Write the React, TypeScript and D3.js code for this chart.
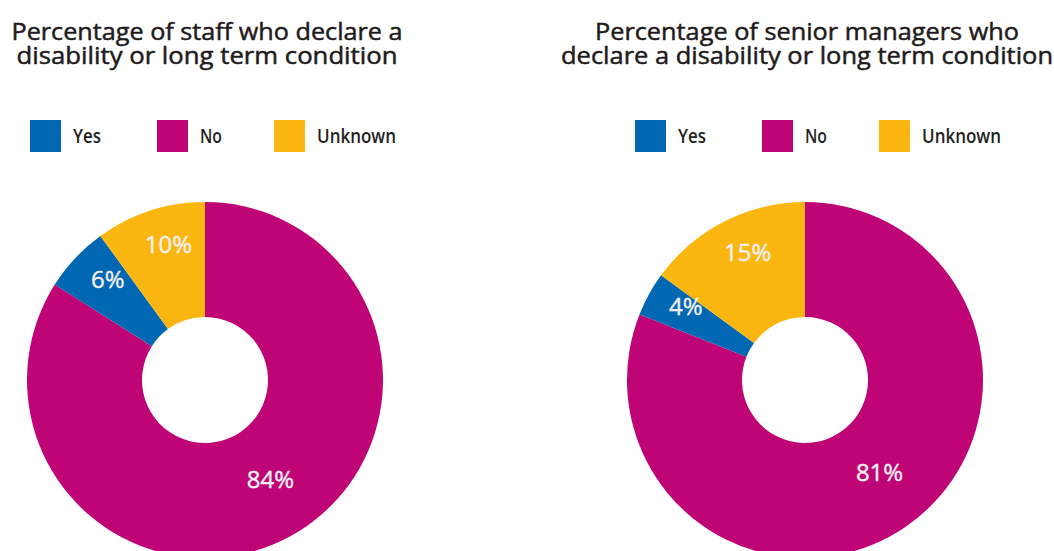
import React from "react";
import * as d3 from "d3";

// ---- data ----
const categories = ["Yes", "No", "Unknown"];
const colors = ["#0068b3", "#bf0576", "#fbb70f"];
const staffValues = [6, 84, 10];
const seniorValues = [4, 81, 15];
const staffTitle = ["Percentage of staff who declare a", "disability or long term condition"];
const seniorTitle = ["Percentage of senior managers who", "declare a disability or long term condition"];
// order of slices clockwise from 12 o'clock
const sliceOrder = [1, 0, 2];

const W = 1054;
const H = 551;
const FONT = "'Open Sans', 'Noto Sans', sans-serif";

type ChartCfg = {
  cx: number;
  cy: number;
  values: number[];
  title: string[];
  titleWidths: number[];
  legendX: number;
};

const charts: ChartCfg[] = [
  { cx: 205, cy: 380, values: staffValues, title: staffTitle, titleWidths: [391, 381], legendX: 30 },
  { cx: 805, cy: 380, values: seniorValues, title: seniorTitle, titleWidths: [424, 492], legendX: 635 },
];

const legendOffsets = [0, 127, 244];
const legendTextWidths = [28, 22, 79];

function Donut({ cfg }: { cfg: ChartCfg }) {
  const outerR = 178;
  const innerR = 63;
  const data = sliceOrder.map((i) => ({ i, v: cfg.values[i] }));
  const pie = d3.pie<{ i: number; v: number }>().sort(null).value((d) => d.v);
  const arcs = pie(data);
  const arcGen = d3.arc<d3.PieArcDatum<{ i: number; v: number }>>().innerRadius(innerR).outerRadius(outerR);
  return (
    <g>
      {cfg.title.map((t, k) => (
        <text
          key={k}
          x={cfg.cx + 2}
          y={40 + k * 24}
          textAnchor="middle"
          fontFamily={FONT}
          fontSize={24}
          fill="#1f1b1c"
          stroke="#1f1b1c"
          strokeWidth={0.5}
          textLength={cfg.titleWidths[k]}
          lengthAdjust="spacingAndGlyphs"
        >
          {t}
        </text>
      ))}
      {categories.map((c, i) => {
        const x = cfg.legendX + legendOffsets[i];
        return (
          <g key={c}>
            <rect x={x} y={120} width={31} height={32} fill={colors[i]} />
            <text
              x={x + 43}
              y={143}
              fontFamily={FONT}
              fontSize={19}
              fontWeight={600}
              fill="#231f20"
              textLength={legendTextWidths[i]}
              lengthAdjust="spacingAndGlyphs"
            >
              {c}
            </text>
          </g>
        );
      })}
      <g transform={`translate(${cfg.cx},${cfg.cy})`}>
        {arcs.map((a) => (
          <path key={a.data.i} d={arcGen(a) || ""} fill={colors[a.data.i]} />
        ))}
        {arcs.map((a) => {
          const big = a.data.v > 50;
          const r = big ? 119 : 140;
          const mid = big ? (a.startAngle + a.endAngle) / 2 - 0.08 : (a.startAngle + a.endAngle) / 2 + 0.05;
          const x = r * Math.sin(mid);
          const y = -r * Math.cos(mid);
          return (
            <text
              key={"l" + a.data.i}
              x={x}
              y={y}
              dy="0.35em"
              textAnchor="middle"
              fontFamily={FONT}
              fontSize={24}
              fill="#f4f0f4"
              stroke="#f4f0f4"
              strokeWidth={0.4}
            >
              {a.data.v + "%"}
            </text>
          );
        })}
      </g>
    </g>
  );
}

export default function App() {
  return (
    <div style={{ position: "absolute", left: 0, top: 0, width: W, height: H, background: "#fff" }}>
      <svg width={W} height={H} style={{ display: "block" }}>
        <rect width={W} height={H} fill="#fff" />
        {charts.map((c, k) => (
          <Donut key={k} cfg={c} />
        ))}
      </svg>
    </div>
  );
}
